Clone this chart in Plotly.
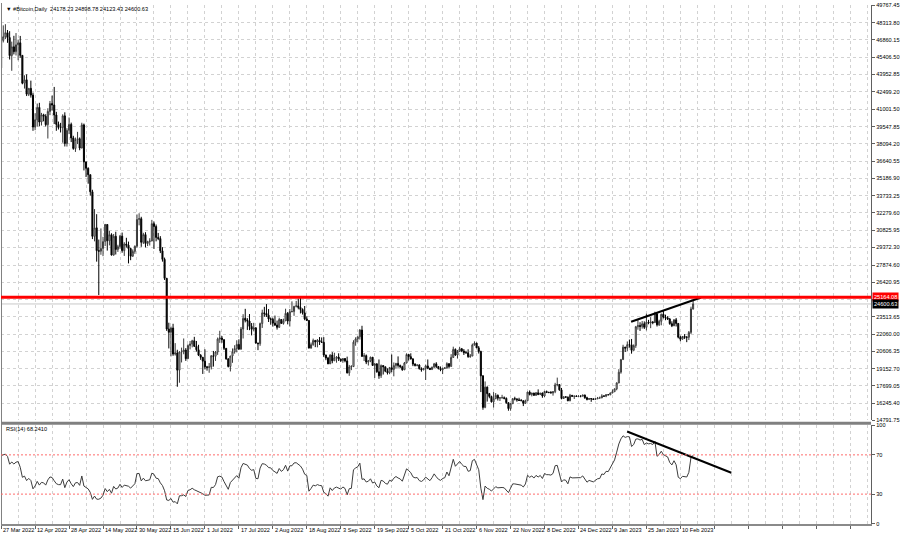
import pandas as pd
import numpy as np
import plotly.graph_objects as go

# ---------------- DATA ----------------
start_date = "2022-03-27"

# closes 1 Feb 2022 .. 26 Mar 2022 (RSI warm-up, not drawn)
warmup_close = [38740, 36950, 37150, 41500, 41440, 42410, 43840, 44120, 44340, 43570,
                42410, 42240, 42200, 42590, 44580, 43960, 40540, 40030, 40120, 38430,
                37080, 38340, 37260, 38330, 39210, 39110, 37710, 43190,
                44420, 43920, 42450, 39150, 39400, 38420, 38060, 38740, 41980, 39440,
                38790, 38900, 37850, 39670, 39340, 41140, 40950, 41800, 42190, 41250,
                41080, 42360, 42890, 43960, 44350, 44500]

close = [
    # Mar 27-31
    46820, 47130, 47470, 47060, 45540,
    # Apr
    46280, 45870, 46450, 46620, 45560, 43210, 43500, 42290, 42780, 42210,
    39520, 40130, 41170, 39940, 40550, 40420, 39720, 40830, 41500, 41370,
    40530, 39740, 39480, 39470, 40460, 38120, 39240, 39740, 38600, 37710,
    # May
    38470, 38530, 37750, 39700, 36580, 36040, 35500, 34060, 30300, 31020,
    29100, 29050, 29280, 29860, 31300, 29930, 30440, 28720, 30310, 29200,
    29430, 30320, 29100, 29650, 29560, 29270, 28630, 29030, 29470, 31730, 31790,
    # Jun
    29800, 30450, 29700, 29860, 29910, 31370, 31130, 30210, 30110, 29080,
    28360, 26760, 22490, 22210, 22570, 20380, 20470, 19020, 20550, 20570,
    20720, 19990, 21100, 21230, 21500, 21030, 20740, 20280, 20100, 19780,
    # Jul
    19300, 19250, 19300, 20230, 20190, 20550, 21640, 21730, 21590, 20860,
    19970, 19330, 20210, 20570, 20840, 21190, 20780, 22490, 23390, 23230,
    23160, 22710, 22470, 22580, 21310, 21250, 22950, 23850, 23800, 23650, 23340,
    # Aug
    23310, 22980, 22820, 22630, 23290, 22960, 23180, 23810, 23160, 23950,
    23960, 24400, 24440, 24310, 24140, 23850, 23340, 23210, 20880, 21170,
    21530, 21400, 21530, 21400, 21370, 20300, 20040, 19550, 20290, 19810, 20050,
    # Sep
    20130, 19950, 19830, 20000, 19800, 18790, 19290, 19320, 21380, 21650,
    21830, 22400, 20180, 20240, 19700, 19800, 20110, 19420, 19540, 18880,
    18550, 19410, 19300, 18930, 18800, 19230, 19080, 19410, 19590, 19420,
    # Oct
    19310, 19050, 19620, 20340, 20160, 19960, 19530, 19420, 19450, 19140,
    19050, 19160, 19380, 19190, 19070, 19270, 19550, 19330, 19140, 19050,
    19170, 19210, 19570, 19330, 20090, 20770, 20290, 20600, 20820, 20630, 20490,
    # Nov
    20480, 20160, 20210, 21150, 21300, 20900, 20590, 18540, 15880, 17590,
    17040, 16800, 16350, 16620, 16900, 16660, 16690, 16700, 16640, 16280,
    15780, 16190, 16610, 16600, 16520, 16460, 16440, 16220, 16440, 17170,
    # Dec
    16970, 17090, 16890, 17110, 16970, 17090, 16840, 17220, 17130, 17130,
    17100, 17210, 17780, 17810, 17360, 16630, 16780, 16740, 16440, 16900,
    16820, 16830, 16800, 16840, 16830, 16920, 16700, 16550, 16630, 16600, 16550,
    # Jan 2023
    16610, 16670, 16680, 16850, 16830, 16950, 16940, 17090, 17200, 17440,
    17940, 18850, 19910, 20960, 20880, 21170, 21160, 20690, 21090, 22680,
    22780, 22710, 22930, 22630, 23060, 23010, 23080, 23030, 23770, 22840, 23140,
    # Feb 1-16
    23730, 23490, 23430, 23330, 22940, 22760, 23260, 22960, 21800, 21630,
    21860, 21790, 21790, 22200, 24178.23, 24600.63,
]

high = [
    46920, 48090, 48190, 47700, 47600,
    46720, 47210, 47440, 46890, 47200, 45560, 43880, 43960, 42790, 43430,
    42420, 40680, 41500, 41560, 40710, 40640, 40600, 41100, 41720, 42170,
    42900, 40800, 39980, 39870, 40590, 40760, 39420, 40320, 39890, 38780,
    38630, 39110, 38640, 39880, 39810, 36600, 36120, 35510, 34230, 32600,
    32170, 30030, 30970, 30260, 31350, 31320, 30760, 30560, 30500, 30690,
    29590, 30420, 30620, 29810, 30180, 29860, 29350, 29200, 29530, 32150, 32250,
    31950, 30600, 30650, 29930, 30140, 31690, 31550, 31300, 30590, 30320,
    29390, 28510, 26800, 23020, 22700, 22930, 21300, 20740, 20620, 20920,
    21690, 20880, 21200, 21480, 21580, 21830, 21480, 21160, 20370, 20140,
    20780, 19380, 19620, 20290, 20640, 20630, 21770, 22340, 21900, 21620,
    20860, 20030, 20230, 20850, 21120, 21540, 21620, 22660, 23740, 24190,
    23400, 23750, 22990, 23010, 22660, 21330, 23030, 24120, 24360, 24590, 24170,
    23460, 23440, 23620, 23200, 23440, 23330, 23360, 24200, 23920, 24180,
    24820, 24440, 24860, 25050, 25210, 24230, 24430, 23560, 23220, 21350,
    21680, 21550, 21640, 21810, 21780, 21800, 20320, 20140, 20360, 20540, 20490,
    20200, 20440, 20000, 20020, 20030, 20160, 19460, 19440, 21540, 21790,
    21860, 22480, 22760, 20460, 20340, 19880, 20160, 20080, 19640, 19620,
    19920, 19500, 19420, 19320, 19170, 19290, 20340, 19670, 19630, 20180,
    19480, 19390, 19710, 20440, 20360, 20440, 20040, 19600, 19510, 19520,
    19260, 19210, 19490, 19920, 19210, 19320, 19630, 19690, 19350, 19330,
    19230, 19250, 19680, 19590, 20370, 21000, 20850, 20720, 20990, 20890, 20800,
    20650, 20780, 20380, 21260, 21450, 21340, 21050, 20660, 18590, 18070,
    17650, 17100, 16870, 17170, 17090, 16970, 16720, 16940, 16800, 16720,
    16290, 16240, 16670, 16780, 16620, 16690, 16590, 16480, 16530, 17200,
    17310, 17110, 17110, 17180, 17400, 17100, 17130, 17280, 17300, 17210,
    17260, 17240, 17950, 18390, 17840, 17520, 16800, 16810, 16800, 17020,
    16910, 16860, 16910, 16870, 16860, 16940, 16960, 16780, 16650, 16630, 16630,
    16630, 16760, 16790, 16990, 16880, 16990, 16970, 17140, 17390, 17480,
    17990, 19100, 19970, 21160, 20990, 21440, 21600, 21650, 21190, 22750,
    23280, 23060, 23160, 23130, 23780, 23260, 23490, 23160, 23950, 23780, 23270,
    23790, 24050, 23700, 23570, 23420, 23140, 23320, 23420, 22990, 21920,
    21890, 22060, 21890, 22320, 24370, 24898.78,
]

low = [
    44420, 46650, 46930, 46620, 45210,
    44260, 45640, 45550, 45150, 45360, 43120, 42760, 42130, 42130, 42000,
    39200, 39250, 39560, 39590, 39650, 40000, 39570, 38550, 40520, 40900,
    39770, 39200, 39310, 39060, 38200, 37880, 37870, 38920, 38250, 37600,
    37420, 38080, 37560, 37720, 35860, 35300, 34740, 33730, 30070, 29880,
    28170, 25350, 28750, 28630, 29490, 29100, 29540, 28700, 28680, 28770,
    28990, 29250, 28920, 28650, 29350, 28020, 28290, 28570, 28830, 29340, 31230,
    29420, 29660, 29370, 29480, 29530, 29890, 29240, 29880, 29980, 28890,
    28170, 26620, 22330, 20850, 20180, 20230, 20250, 17620, 17960, 19670,
    20360, 19800, 19960, 20770, 20940, 20970, 20580, 20210, 19890, 18700,
    19080, 18980, 18800, 19080, 19320, 19800, 20310, 21320, 21330, 20720,
    19900, 19250, 18910, 19640, 20410, 20520, 20770, 20770, 21690, 23050,
    22410, 22390, 21950, 22290, 21250, 20710, 21070, 22580, 23520, 23510, 23080,
    22850, 22690, 22740, 22440, 22590, 22940, 22860, 23160, 22880, 22700,
    23900, 23600, 24310, 24150, 23800, 23710, 23230, 23160, 20850, 20830,
    21080, 20960, 20940, 21140, 21310, 20120, 19860, 19530, 19580, 19600, 19810,
    19650, 19790, 19710, 19640, 19680, 18740, 18540, 19020, 19310, 21080,
    21370, 21600, 20160, 19790, 19530, 19410, 19690, 19370, 18360, 18800,
    18290, 18360, 18650, 18850, 18650, 18680, 18840, 18500, 19140, 19230,
    19180, 18970, 19030, 19600, 19830, 19920, 19360, 19330, 19340, 19070,
    18890, 19010, 18190, 19100, 19040, 19070, 19220, 19190, 19090, 18930,
    18690, 19120, 19160, 19160, 19330, 20060, 20220, 20000, 20560, 20540, 20300,
    20430, 20060, 20060, 20200, 21090, 20890, 20420, 17170, 15680, 15810,
    16370, 16650, 16290, 15870, 16570, 16460, 16420, 16630, 16560, 16190,
    15600, 15600, 16170, 16470, 16360, 16440, 16420, 15990, 16200, 16440,
    16890, 16810, 16880, 16880, 16910, 16920, 16690, 16750, 17100, 17090,
    17070, 16870, 17080, 17660, 17280, 16560, 16600, 16700, 16400, 16400,
    16760, 16590, 16760, 16790, 16730, 16790, 16600, 16470, 16510, 16350, 16500,
    16500, 16570, 16620, 16660, 16760, 16740, 16910, 16910, 17080, 17190,
    17320, 17920, 18720, 19890, 20550, 20640, 20920, 20410, 20670, 20900,
    22430, 22330, 22520, 22490, 22370, 22890, 22560, 22890, 23000, 22700, 22750,
    22800, 23380, 23230, 23260, 22850, 22650, 22740, 22700, 21700, 21460,
    21600, 21650, 21380, 21560, 22060, 24123.43,
]

price_tick_vals = [49767.45, 48313.80, 46860.15, 45406.50, 43952.85, 42499.20, 41001.50,
                   39547.85, 38094.20, 36640.55, 35186.90, 33733.25, 32279.60, 30825.95,
                   29372.30, 27874.60, 26420.95, 24967.30, 23513.65, 22060.00, 20606.35,
                   19152.70, 17699.05, 16245.40, 14791.75]
price_tick_text = ["49767.45", "48313.80", "46860.15", "45406.50", "43952.85", "42499.20",
                   "41001.50", "39547.85", "38094.20", "36640.55", "35186.90", "33733.25",
                   "32279.60", "30825.95", "29372.30", "27874.60", "26420.95", "",
                   "23513.65", "22060.00", "20606.35", "19152.70", "17699.05", "16245.40",
                   "14791.75"]
rsi_tick_vals = [0, 30, 70, 100]
rsi_tick_text = ["0", "30", "70", "100"]

date_label_vals = ["2022-03-27", "2022-04-12", "2022-04-28", "2022-05-14", "2022-05-30",
                   "2022-06-15", "2022-07-01", "2022-07-17", "2022-08-02", "2022-08-18",
                   "2022-09-03", "2022-09-19", "2022-10-05", "2022-10-21", "2022-11-06",
                   "2022-11-22", "2022-12-08", "2022-12-24", "2023-01-09", "2023-01-25",
                   "2023-02-10"]
date_label_text = ["27 Mar 2022", "12 Apr 2022", "28 Apr 2022", "14 May 2022", "30 May 2022",
                   "15 Jun 2022", "1 Jul 2022", "17 Jul 2022", "2 Aug 2022", "18 Aug 2022",
                   "3 Sep 2022", "19 Sep 2022", "5 Oct 2022", "21 Oct 2022", "6 Nov 2022",
                   "22 Nov 2022", "8 Dec 2022", "24 Dec 2022", "9 Jan 2023", "25 Jan 2023",
                   "10 Feb 2023"]

resistance_level = 25164.08
last_price = 24600.63

price_trend_x = ["2023-01-17 19:00", "2023-02-19 17:00"]
price_trend_y = [23100, 25150]
rsi_trend_x = ["2023-01-15 22:00", "2023-03-06 00:00"]
rsi_trend_y = [93.8, 51.8]

title_text = "\u25bc #Bitcoin,Daily  24178.23 24898.78 24123.43 24600.63"
rsi_text = "RSI(14) 68.2410"

# ---------------- DERIVED ----------------
assert len(close) == len(high) == len(low), (len(close), len(high), len(low))
dates = pd.date_range(start_date, periods=len(close), freq="D")
open_ = [warmup_close[-1]] + close[:-1]

allc = np.array(warmup_close + close, dtype=float)
diff = np.diff(allc)
gain = np.where(diff > 0, diff, 0.0)
loss = np.where(diff < 0, -diff, 0.0)
n = 14
ag = np.zeros_like(gain)
al = np.zeros_like(loss)
ag[n - 1] = gain[:n].mean()
al[n - 1] = loss[:n].mean()
for i in range(n, len(gain)):
    ag[i] = (ag[i - 1] * (n - 1) + gain[i]) / n
    al[i] = (al[i - 1] * (n - 1) + loss[i]) / n
rsi_all = 100 - 100 / (1 + ag / np.where(al == 0, 1e-9, al))
rsi = rsi_all[-len(close):]

# ---------------- LAYOUT GEOMETRY (pixels) ----------------
W, H = 900, 539
def px(x):
    return x / W
def py(y):
    return 1 - y / H

x_left, x_right = 1, 873
px_per_day = 2.1273
x0_px = 1.15
t0 = pd.Timestamp(start_date)
range_start = t0 + pd.Timedelta(days=(x_left - x0_px) / px_per_day)
range_end = t0 + pd.Timedelta(days=(x_right - x0_px) / px_per_day)

main_top, main_bot = 2.5, 422.0
rsi_top, rsi_bot = 427.2, 526.4

grid_col = "#d2d2d2"
font_fam = "Liberation Sans, Arial, sans-serif"
fs = 5.6

fig = go.Figure()
fig.add_trace(go.Candlestick(
    x=dates, open=open_, high=high, low=low, close=close,
    increasing=dict(line=dict(color="#3a3a3a", width=1), fillcolor="white"),
    decreasing=dict(line=dict(color="black", width=1), fillcolor="black"),
    whiskerwidth=0, xaxis="x", yaxis="y", showlegend=False, hoverinfo="skip"))
fig.add_trace(go.Scatter(
    x=price_trend_x, y=price_trend_y, mode="lines", line=dict(color="black", width=2),
    xaxis="x", yaxis="y", showlegend=False, hoverinfo="skip"))
fig.add_trace(go.Scatter(
    x=dates, y=rsi, mode="lines", line=dict(color="#3c3c3c", width=1),
    xaxis="x", yaxis="y2", showlegend=False, hoverinfo="skip"))
fig.add_trace(go.Scatter(
    x=rsi_trend_x, y=rsi_trend_y, mode="lines", line=dict(color="black", width=2),
    xaxis="x", yaxis="y2", showlegend=False, hoverinfo="skip"))

day_ms = 86400000
fig.update_layout(
    width=W, height=H, margin=dict(l=0, r=0, t=0, b=0),
    paper_bgcolor="white", plot_bgcolor="white", showlegend=False,
    font=dict(family=font_fam, size=fs, color="black"),
    xaxis=dict(
        type="date", domain=[px(x_left), px(x_right)], range=[range_start, range_end],
        anchor="y2", rangeslider=dict(visible=False),
        tickmode="linear", tick0=start_date, dtick=16 * day_ms,
        showticklabels=False, ticks="outside", ticklen=3, tickcolor="#606060",
        showgrid=True, gridcolor=grid_col, griddash="3px,3px", gridwidth=1,
        minor=dict(tick0=start_date, dtick=8 * day_ms, showgrid=True,
                   gridcolor=grid_col, griddash="3px,3px", gridwidth=1, ticks=""),
        showline=True, linecolor="#8a8a8a", linewidth=2, zeroline=False, fixedrange=True),
    yaxis=dict(
        domain=[py(main_bot), py(main_top)], range=[14791.75, 49767.45],
        side="right", anchor="x", tickmode="array",
        tickvals=price_tick_vals, ticktext=price_tick_text,
        ticks="outside", ticklen=3, tickcolor="#606060",
        tickfont=dict(family=font_fam, size=fs, color="black"),
        showgrid=True, gridcolor=grid_col, griddash="3px,3px", gridwidth=1,
        showline=True, linecolor="#606060", linewidth=1, zeroline=False, fixedrange=True),
    yaxis2=dict(
        domain=[py(rsi_bot), py(rsi_top)], range=[0, 100],
        side="right", anchor="x", tickmode="array",
        tickvals=rsi_tick_vals, ticktext=rsi_tick_text,
        ticks="outside", ticklen=3, tickcolor="#606060",
        tickfont=dict(family=font_fam, size=fs, color="black"),
        showgrid=False, showline=True, linecolor="#606060", linewidth=1,
        zeroline=False, fixedrange=True),
)

shapes = [
    dict(type="rect", xref="paper", yref="paper", x0=px(x_left), x1=px(x_right),
         y0=py(426.5), y1=py(423.5), fillcolor="#808080", line=dict(width=0), layer="above"),
    dict(type="line", xref="paper", yref="paper", x0=px(1.5), x1=px(1.5),
         y0=py(527.5), y1=py(0), line=dict(color="#808080", width=1)),
    dict(type="line", xref="paper", yref="y", x0=px(x_left), x1=px(x_right),
         y0=resistance_level, y1=resistance_level, line=dict(color="#ff0000", width=3),
         layer="above"),
    dict(type="line", xref="paper", yref="y", x0=px(x_left), x1=px(x_right),
         y0=last_price, y1=last_price, line=dict(color="#c8c8c8", width=1), layer="below"),
    dict(type="line", xref="paper", yref="y2", x0=px(x_left), x1=px(x_right),
         y0=70, y1=70, line=dict(color="#ff6a6a", width=1, dash="2px,2px")),
    dict(type="line", xref="paper", yref="y2", x0=px(x_left), x1=px(x_right),
         y0=30, y1=30, line=dict(color="#ff6a6a", width=1, dash="2px,2px")),
]
fig.update_layout(shapes=shapes)

ann = [
    dict(text=title_text, xref="paper", yref="paper", x=px(4), y=py(5.7),
         xanchor="left", yanchor="middle", showarrow=False,
         font=dict(family=font_fam, size=fs, color="black")),
    dict(text=rsi_text, xref="paper", yref="paper", x=px(4), y=py(430.5),
         xanchor="left", yanchor="middle", showarrow=False,
         font=dict(family=font_fam, size=fs, color="black")),
    dict(text="25164.08", xref="paper", yref="y", x=px(874), y=resistance_level,
         xanchor="left", yanchor="middle", showarrow=False, bgcolor="#ff0000",
         borderpad=1, font=dict(family=font_fam, size=fs, color="white")),
    dict(text="24600.63", xref="paper", yref="y", x=px(874), y=last_price,
         xanchor="left", yanchor="middle", showarrow=False, bgcolor="black",
         borderpad=1, font=dict(family=font_fam, size=fs, color="white")),
]
for d, t in zip(date_label_vals, date_label_text):
    ann.append(dict(text=t, xref="x", yref="paper", x=d, y=py(532.5),
                    xanchor="left", yanchor="middle", showarrow=False,
                    font=dict(family=font_fam, size=fs, color="black")))
fig.update_layout(annotations=ann)

fig.write_html("out.html", config={"displayModeBar": False},
               post_script="document.body.style.margin='0';document.body.style.overflow='hidden';")
